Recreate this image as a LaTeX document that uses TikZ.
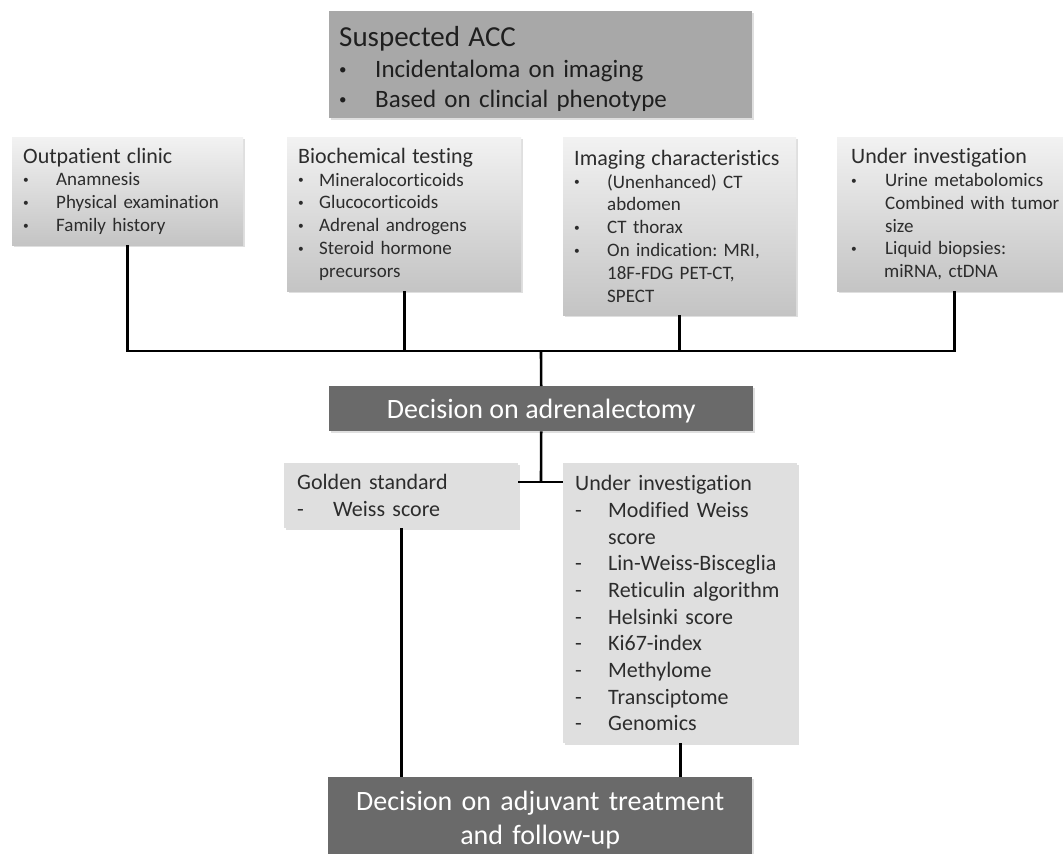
\documentclass[tikz,border=0pt]{standalone}
\usepackage{fontspec}
\setmainfont{Carlito}[Ligatures=NoCommon]
\usepackage{xcolor}
\usetikzlibrary{positioning,calc,shadows}

\definecolor{topgray}{HTML}{A8A8A8}
\definecolor{decgray}{HTML}{6A6A6A}
\definecolor{boxtop}{HTML}{F2F2F2}
\definecolor{boxbot}{HTML}{C4C4C4}
\definecolor{flatgray}{HTML}{DFDFDF}
\definecolor{txtgray}{HTML}{2C2C2C}

\newcommand{\bul}[2]{\mbox{\makebox[#1][l]{\raisebox{0.12em}{\scalebox{0.6}{\textbullet}}}#2}}
\newcommand{\dsh}[2]{\mbox{\makebox[#1][l]{-}#2}}
\newcommand{\cnt}[2]{\mbox{\hspace*{#1}#2}}
\frenchspacing

\begin{document}
\begin{tikzpicture}[x=1pt, y=-1pt,
    conn/.style={line width=2.6pt, black},
    shade/.style={drop shadow={shadow xshift=1.5pt, shadow yshift=-2pt, opacity=0.25}},
    basebox/.style={anchor=north west, align=left, inner ysep=0pt, text=txtgray, shade},
    gradbox/.style={basebox, inner xsep=11pt, top color=boxtop, bottom color=boxbot,
        font=\fontsize{19}{22.8}\selectfont},
    flatbox/.style={basebox, inner xsep=13pt, fill=flatgray,
        font=\fontsize{22}{26.7}\selectfont},
    decbox/.style={anchor=north west, align=center, fill=decgray, text=white, shade,
        font=\fontsize{28}{34}\selectfont}]

    \useasboundingbox (0,0) rectangle (1063,854);

    % Suspected ACC
    \node[basebox, fill=topgray, text=black!88, inner xsep=10pt, text width=403pt,
        minimum width=423pt, minimum height=107pt,
        font=\fontsize{25}{30.5}\selectfont] (acc) at (329,11)
        {{\fontsize{29}{30.5}\selectfont\rule{0pt}{29.5pt}Suspected ACC}\\
         \bul{36pt}{Incidentaloma on imaging}\\
         \bul{36pt}{Based on clincial phenotype}};

    % First row
    \node[gradbox, text width=209pt, minimum width=231pt, minimum height=108pt] (clinic) at (12,137)
        {{\fontsize{22}{22.8}\selectfont Outpatient clinic}\\
         \bul{33pt}{Anamnesis}\\
         \bul{33pt}{Physical examination}\\
         \bul{33pt}{Family history}};
    \node[gradbox, text width=212pt, minimum width=234pt, minimum height=154pt] (biochem) at (287,137)
        {{\fontsize{22}{22.8}\selectfont Biochemical testing}\\
         \bul{21pt}{Mineralocorticoids}\\
         \bul{21pt}{Glucocorticoids}\\
         \bul{21pt}{Adrenal androgens}\\
         \bul{21pt}{Steroid hormone}\\
         \cnt{21pt}{precursors}};
    \node[gradbox, text width=211pt, minimum width=233pt, minimum height=178pt] (imaging) at (563,137)
        {{\fontsize{22}{22.8}\selectfont Imaging characteristics}\\
         \bul{33pt}{(Unenhanced) CT}\\
         \cnt{33pt}{abdomen}\\
         \bul{33pt}{CT thorax}\\
         \bul{33pt}{On indication: MRI,}\\
         \cnt{33pt}{18F-FDG PET-CT,}\\
         \cnt{33pt}{SPECT}};
    \node[gradbox, inner xsep=14pt, text width=206pt, minimum width=234pt, minimum height=154pt] (invA) at (837,137)
        {{\fontsize{22}{22.8}\selectfont Under investigation}\\
         \bul{34pt}{Urine metabolomics}\\
         \cnt{34pt}{Combined with tumor}\\
         \cnt{34pt}{size}\\
         \bul{34pt}{Liquid biopsies:}\\
         \cnt{33pt}{miRNA, ctDNA}};

    % Decisions
    \node[decbox, minimum width=424pt, minimum height=45pt] (surgery) at (329,386)
        {\rule{0pt}{25pt}Decision on adrenalectomy};
    \node[decbox, text width=400pt, minimum width=424pt, minimum height=86pt] (followup) at (328,777)
        {Decision on adjuvant treatment\\ and follow-up};

    % Second row
    \node[flatbox, text width=208pt, minimum width=234pt, minimum height=65pt] (golden) at (284,463)
        {Golden standard\\
         \dsh{36pt}{Weiss score}};
    \node[flatbox, inner xsep=12pt, text width=210pt, minimum width=234pt, minimum height=280pt] (invB) at (563,463)
        {Under investigation\\
         \dsh{33pt}{Modified Weiss}\\
         \cnt{33pt}{score}\\
         \dsh{33pt}{Lin-Weiss-Bisceglia}\\
         \dsh{33pt}{Reticulin algorithm}\\
         \dsh{33pt}{Helsinki score}\\
         \dsh{33pt}{Ki67-index}\\
         \dsh{33pt}{Methylome}\\
         \dsh{33pt}{Transciptome}\\
         \dsh{33pt}{Genomics}};

    % Connectors
    \coordinate (hub) at (541,351);
    \coordinate (split) at (541,482);
    \draw[conn] (clinic.south) |- (hub) -| (invA.south);
    \draw[conn] (biochem.south) -- (biochem.south |- hub);
    \draw[conn] (imaging.south) -- (imaging.south |- hub);
    \draw[conn] (hub) -- (surgery.north);
    \draw[conn] (surgery.south) -- (split);
    \draw[conn] (golden.east |- split) -- (invB.west |- split);
    \draw[conn] (golden.south) -- (golden.south |- followup.north);
    \draw[conn] (invB.south) -- (invB.south |- followup.north);
\end{tikzpicture}
\end{document}
